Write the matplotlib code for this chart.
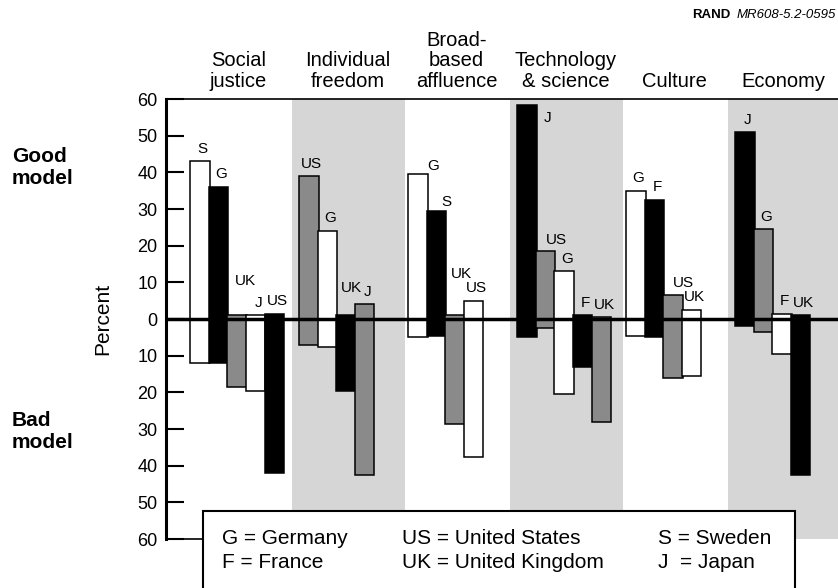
import matplotlib
matplotlib.use("Agg")
import matplotlib.pyplot as plt
from matplotlib.patches import Rectangle

plt.rcParams['font.family'] = ['Liberation Sans', 'DejaVu Sans']

# categories along the top
categories = ["Social\njustice", "Individual\nfreedom", "Broad-\nbased\naffluence",
              "Technology\n& science", "Culture", "Economy"]

# country code on each bar, per category
countries = [["S", "G", "UK", "J", "US"],
             ["US", "G", "UK", "J"],
             ["G", "S", "UK", "US"],
             ["J", "US", "G", "F", "UK"],
             ["G", "F", "US", "UK"],
             ["J", "G", "F", "UK"]]

# percent calling it a good model (upward) and a bad model (downward)
good = [[43, 36, 1, 1, 1.5],
        [39, 24, 1, 4],
        [39.5, 29.5, 1, 5],
        [58.5, 18.5, 13, 1, 0.5],
        [35, 32.5, 6.5, 2.5],
        [51, 24.5, 1.5, 1]]
bad = [[12, 12, 18.5, 19.5, 42],
       [7, 7.5, 19.5, 42.5],
       [5, 4.5, 28.5, 37.5],
       [5, 2.5, 20.5, 13, 28],
       [4.5, 5, 16, 15.5],
       [2, 3.5, 9.5, 42.5]]

ytick_values = list(range(-60, 61, 10))
ytick_labels = [str(abs(v)) for v in ytick_values]

legend_rows = [["G = Germany", "US = United States", "S = Sweden"],
               ["F = France", "UK = United Kingdom", "J  = Japan"]]

# fill of each bar (w = white, k = black, g = gray)
fills = [["w", "k", "g", "w", "k"],
         ["g", "w", "k", "g"],
         ["w", "k", "g", "w"],
         ["k", "g", "w", "k", "g"],
         ["w", "k", "g", "w"],
         ["k", "g", "w", "k"]]
fill_color = {"w": "white", "k": "black", "g": "#8a8a8a"}
band_color = "#d6d6d6"

# label nudges (points) where the labels were moved to avoid crowding
default_nudge = (2, 9)
nudges = {(0, 2): (6, 24.5), (1, 2): (4, 19.5), (2, 0): (11, 6), (2, 1): (7, 6.5),
          (2, 2): (4.5, 29.5), (3, 0): (15, -9.5), (3, 1): (8, 8), (4, 2): (7.5, 8.5)}

fig = plt.figure(figsize=(8.38, 5.88), dpi=100)
ax = fig.add_axes([166/838, 49/588, 672/838, 440/588])

step = 0.171
width = 0.179
pad = 0.055

for k in (1, 3, 5):
    ax.axvspan(k - 0.01, k + 1.03, color=band_color, zorder=0, lw=0)

for g in range(len(categories)):
    for i, c in enumerate(countries[g]):
        x = g + pad + width/2 + i*step
        ax.bar(x, good[g][i] + bad[g][i], bottom=-bad[g][i], width=width,
               color=fill_color[fills[g][i]], edgecolor='black', linewidth=1.1, zorder=2)
        ax.annotate(c, xy=(x, good[g][i]), xytext=nudges.get((g, i), default_nudge),
                    textcoords='offset points', ha='center', va='center', fontsize=11, zorder=4)
    ax.text(g + 0.5, 1.0 + 8/440, categories[g], transform=ax.get_xaxis_transform(),
            ha='center', va='bottom', fontsize=14.5, linespacing=1.1)

ax.axhline(0, color='black', lw=2.5, zorder=5)

ax.set_xlim(-18/109, 6.0)
ax.set_ylim(-60, 60)
ax.set_xticks([])
ax.set_yticks(ytick_values)
ax.set_yticklabels(ytick_labels, fontsize=13)
ax.tick_params(axis='y', direction='in', length=13, width=1.5, pad=6)
ax.spines['right'].set_visible(False)
ax.spines['left'].set_linewidth(2.2)
ax.spines['top'].set_linewidth(1.2)
ax.spines['bottom'].set_linewidth(1.2)
ax.spines['bottom'].set_bounds(-18/109, (205-184)/109)

ax.set_ylabel("Percent", fontsize=15, labelpad=18)

fig.text(12/838, 1 - 168/588, "Good\nmodel", fontsize=15, fontweight='bold', va='center', ha='left')
fig.text(12/838, 1 - 432/588, "Bad\nmodel", fontsize=15, fontweight='bold', va='center', ha='left')

fig.text(730/838, 1 - 15/588, "RAND", fontsize=9.5, fontweight='bold', va='center', ha='right')
fig.text(0.997, 1 - 15/588, "MR608-5.2-0595", fontsize=9.5, style='italic', va='center', ha='right')

fig.add_artist(Rectangle((203/838, -0.1), (795-203)/838, 0.1 + 77/588, transform=fig.transFigure,
                         facecolor='white', edgecolor='black', linewidth=1.5, zorder=10))
col_x = [222/838, 402/838, 658/838]
row_y = [1 - 538/588, 1 - 562/588]
for r, row in enumerate(legend_rows):
    for c, txt in enumerate(row):
        fig.text(col_x[c], row_y[r], txt, fontsize=15, va='center', ha='left', zorder=11)

fig.savefig("out.png", dpi=100)
